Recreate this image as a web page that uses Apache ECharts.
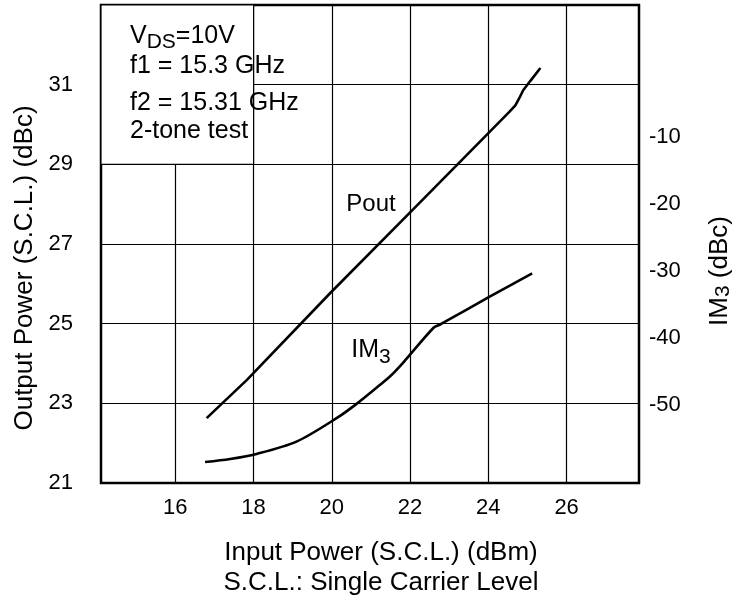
<!DOCTYPE html>
<html><head><meta charset="utf-8">
<script src="https://cdn.jsdelivr.net/npm/echarts@6/dist/echarts.min.js"></script>
<style>html,body{margin:0;padding:0;background:#fff}#c{width:744px;height:604px}</style>
</head><body><div id="c"></div>
<script>
// ---- data ----
const xTicks = [16, 18, 20, 22, 24, 26];
const leftTicks = [21, 23, 25, 27, 29, 31];
const rightTicks = [-50, -40, -30, -20, -10];

const poutX = [16.80, 17.83, 19.96, 22.26, 24.53, 24.69, 24.79, 24.89, 25.07, 25.33];
const poutY = [22.63, 23.59, 25.77, 28.05, 30.31, 30.48, 30.66, 30.86, 31.09, 31.42];

const im3X = [16.76, 17.40, 18.10, 19.11, 20.13, 20.64, 21.24, 21.49, 21.83, 22.60, 22.77, 24.01, 25.12];
const im3Y = [-58.56, -58.11, -57.32, -55.47, -51.97, -49.83, -46.98, -45.74, -43.64, -38.48, -37.99, -33.90, -30.35];

const X_MIN = 14.1, X_MAX = 27.85;
const YL_MIN = 21, YL_MAX = 33;
const YR_MIN = -61.7, YR_MAX = 9.8;
const BOX_X_MAX = 18, BOX_Y_MIN = 29;
const poutLabelAt = [21.0, 28.0];
const im3LabelAt = [21.0, -41.8];

const FONT = 'Liberation Sans, Arial, Helvetica, sans-serif';
const zip = (a, b) => a.map((v, i) => [v, b[i]]);

const chart = echarts.init(document.getElementById('c'));
chart.setOption({
  animation: false,
  backgroundColor: '#fff',
  textStyle: { fontFamily: FONT, color: '#000' },
  grid: { left: 101, right: 105, top: 5, bottom: 121, show: true, borderColor: '#000', borderWidth: 2.5, backgroundColor: 'transparent' },
  xAxis: {
    type: 'value', min: X_MIN, max: X_MAX,
    axisLine: { show: false },
    axisTick: { show: false, customValues: xTicks },
    axisLabel: { customValues: xTicks, fontSize: 22, color: '#000', margin: 14, fontFamily: FONT },
    splitLine: { show: true, lineStyle: { color: '#000', width: 1.2 } },
    name: 'Input Power (S.C.L.) (dBm)\nS.C.L.: Single Carrier Level',
    nameLocation: 'middle', nameGap: 55,
    nameTextStyle: { fontSize: 26, lineHeight: 30, color: '#000', fontFamily: FONT, padding: [0, 0, 0, 22] }
  },
  yAxis: [{
    type: 'value', position: 'left', min: YL_MIN, max: YL_MAX,
    axisLine: { show: false },
    axisTick: { show: false, customValues: leftTicks },
    axisLabel: { customValues: leftTicks, fontSize: 22, color: '#000', margin: 28, fontFamily: FONT },
    splitLine: { show: true, lineStyle: { color: '#000', width: 1.2 } },
    name: 'Output Power (S.C.L.) (dBc)', nameLocation: 'middle', nameRotate: 90, nameGap: 58,
    nameTextStyle: { fontSize: 26, color: '#000', fontFamily: FONT, padding: [0, 48, 0, 0] }
  }, {
    type: 'value', position: 'right', min: YR_MIN, max: YR_MAX,
    axisLine: { show: false },
    axisTick: { show: false, customValues: rightTicks },
    axisLabel: { customValues: rightTicks, fontSize: 22, color: '#000', margin: 10, fontFamily: FONT },
    splitLine: { show: false },
    name: '{m|IM}{s|3}{m| (dBc)}', nameLocation: 'middle', nameRotate: 90, nameGap: 66,
    nameTextStyle: {
      color: '#000', fontFamily: FONT, padding: [0, 54, 0, 0],
      rich: { m: { fontSize: 26, fontFamily: FONT, color: '#000' }, s: { fontSize: 21, fontFamily: FONT, color: '#000', padding: [8, 0, 0, 0] } }
    }
  }],
  series: [{
    type: 'line', name: 'Pout', xAxisIndex: 0, yAxisIndex: 0,
    data: zip(poutX, poutY), showSymbol: false, smooth: false,
    lineStyle: { color: '#000', width: 2.6 },
    markArea: {
      silent: true,
      itemStyle: { color: '#fff', borderColor: '#000', borderWidth: 1.2 },
      data: [[{ coord: [X_MIN, BOX_Y_MIN] }, { coord: [BOX_X_MAX, YL_MAX] }]]
    },
    markPoint: {
      silent: true, symbol: 'circle', symbolSize: 0,
      label: { show: true, position: 'inside', formatter: 'Pout', fontSize: 24, color: '#000', fontFamily: FONT },
      data: [{ coord: poutLabelAt }]
    }
  }, {
    type: 'line', name: 'IM3', xAxisIndex: 0, yAxisIndex: 1,
    data: zip(im3X, im3Y), showSymbol: false, smooth: 0.3,
    lineStyle: { color: '#000', width: 2.6 },
    markPoint: {
      silent: true, symbol: 'circle', symbolSize: 0,
      label: {
        show: true, position: 'inside', formatter: '{m|IM}{s|3}', color: '#000',
        rich: { m: { fontSize: 25, fontFamily: FONT, color: '#000' }, s: { fontSize: 21, fontFamily: FONT, color: '#000', padding: [14, 0, 0, 0] } }
      },
      data: [{ coord: im3LabelAt }]
    }
  }],
  graphic: [
    { type: 'text', x: 130, y: 36, z: 100, style: { text: '{m|V}{s|DS}{m|=10V}', verticalAlign: 'middle', rich: { m: { fontSize: 25, fontFamily: FONT, fill: '#000' }, s: { fontSize: 21, fontFamily: FONT, fill: '#000', padding: [12, 0, 0, 0] } } } },
    { type: 'text', x: 130, y: 66, z: 100, style: { text: 'f1 = 15.3 GHz', fontSize: 25, fontFamily: FONT, fill: '#000', verticalAlign: 'middle' } },
    { type: 'text', x: 130, y: 103, z: 100, style: { text: 'f2 = 15.31 GHz', fontSize: 25, fontFamily: FONT, fill: '#000', verticalAlign: 'middle' } },
    { type: 'text', x: 130, y: 131, z: 100, style: { text: '2-tone test', fontSize: 25, fontFamily: FONT, fill: '#000', verticalAlign: 'middle' } }
  ]
});
</script>
</body></html>
